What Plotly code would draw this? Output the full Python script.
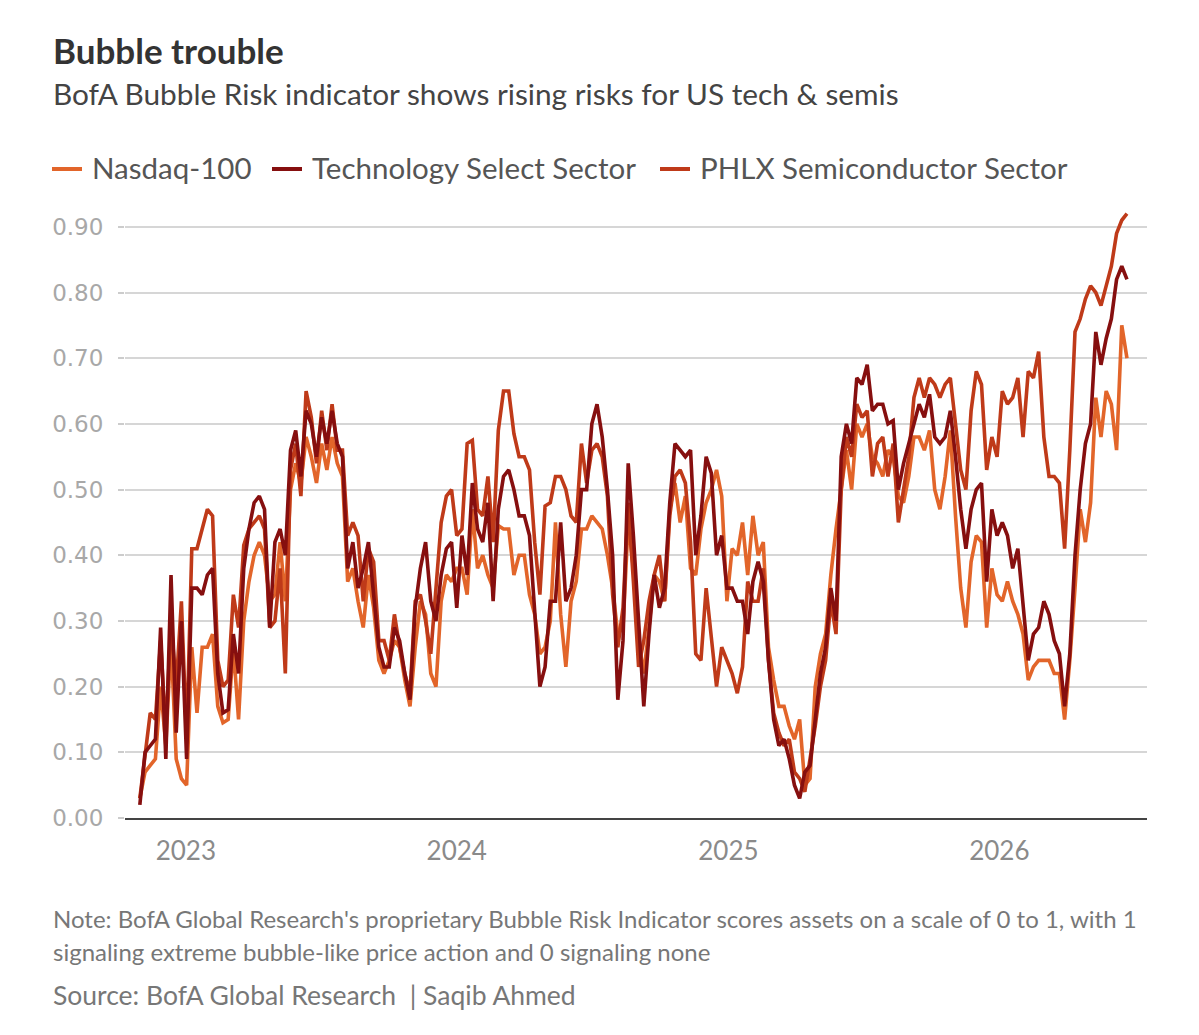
import pandas as pd
import plotly.graph_objects as go

# Weekly observation dates
dates = pd.date_range("2022-10-31", periods=191, freq="7D")

nasdaq_100 = [
    .03, .07, .08, .09, .20, .11, .27, .09, .06, .05,
    .26, .16, .26, .26, .28, .17, .145, .15, .26, .15,
    .30, .36, .40, .42, .40, .33, .34, .42, .33, .50,
    .54, .51, .58, .55, .51, .57, .53, .58, .54, .52,
    .36, .38, .33, .29, .37, .32, .24, .22, .24, .27,
    .26, .21, .17, .26, .33, .31, .22, .20, .33, .37,
    .36, .38, .38, .34, .47, .38, .40, .37, .35, .445,
    .44, .44, .37, .40, .40, .34, .31, .25, .26, .30,
    .45, .31, .23, .33, .36, .44, .44, .46, .45, .44,
    .40, .35, .28, .29, .45, .38, .27, .22, .29, .37,
    .36, .33, .47, .51, .45, .49, .38, .37, .44, .48,
    .50, .53, .49, .33, .41, .40, .45, .37, .46, .40,
    .42, .26, .21, .17, .17, .14, .12, .15, .05, .06,
    .20, .25, .28, .37, .44, .50, .56, .50, .60, .58,
    .60, .55, .54, .52, .56, .55, .49, .48, .52, .58,
    .58, .56, .59, .50, .47, .52, .59, .46, .35, .29,
    .39, .43, .42, .29, .38, .34, .33, .36, .33, .31,
    .28, .21, .23, .24, .24, .24, .22, .22, .15, .24,
    .35, .47, .42, .48, .64, .58, .65, .63, .56, .75,
    .70,
]

tech_select = [
    .02, .10, .11, .12, .29, .09, .37, .13, .30, .09,
    .35, .35, .34, .37, .38, .22, .16, .165, .28, .22,
    .38, .44, .48, .49, .47, .29, .42, .44, .40, .56,
    .59, .52, .62, .60, .55, .61, .57, .62, .57, .55,
    .38, .42, .35, .38, .42, .34, .26, .23, .23, .29,
    .27, .22, .18, .32, .38, .42, .33, .30, .37, .41,
    .42, .32, .43, .37, .51, .44, .42, .48, .33, .47,
    .52, .53, .50, .46, .46, .43, .32, .20, .23, .33,
    .33, .45, .33, .35, .40, .50, .50, .60, .63, .58,
    .50, .40, .18, .27, .54, .43, .30, .17, .28, .37,
    .32, .35, .48, .57, .56, .55, .56, .40, .46, .55,
    .525, .40, .43, .35, .35, .33, .33, .28, .36, .39,
    .36, .24, .15, .11, .12, .09, .05, .03, .07, .08,
    .15, .22, .26, .35, .30, .55, .60, .57, .67, .66,
    .69, .62, .63, .63, .60, .605, .50, .54, .57, .60,
    .63, .61, .645, .58, .57, .58, .62, .55, .47, .41,
    .47, .50, .51, .36, .47, .43, .45, .43, .38, .41,
    .32, .24, .28, .29, .33, .31, .27, .25, .17, .25,
    .40, .50, .57, .60, .74, .69, .73, .76, .82, .84,
    .82,
]

phlx_semis = [
    .03, .09, .16, .15, .27, .13, .30, .20, .33, .12,
    .41, .41, .44, .47, .46, .24, .20, .21, .34, .29,
    .415, .44, .45, .46, .44, .29, .30, .38, .22, .53,
    .57, .49, .65, .61, .54, .62, .56, .63, .56, .56,
    .43, .45, .43, .33, .41, .39, .27, .27, .24, .31,
    .26, .22, .19, .33, .34, .30, .25, .35, .45, .49,
    .50, .43, .44, .57, .575, .47, .46, .52, .42, .59,
    .65, .65, .585, .55, .55, .53, .42, .34, .475, .48,
    .52, .52, .50, .46, .45, .57, .51, .56, .57, .55,
    .49, .34, .26, .32, .48, .36, .23, .27, .33, .37,
    .40, .33, .46, .52, .53, .51, .42, .25, .24, .35,
    .28, .20, .26, .24, .22, .19, .23, .36, .33, .33,
    .38, .24, .16, .13, .11, .12, .07, .06, .04, .09,
    .14, .20, .24, .33, .28, .50, .58, .55, .63, .61,
    .62, .52, .57, .58, .52, .57, .45, .50, .55, .64,
    .67, .64, .67, .66, .64, .66, .67, .60, .53, .50,
    .62, .68, .66, .53, .58, .55, .65, .63, .64, .67,
    .58, .68, .67, .71, .58, .52, .52, .51, .41, .56,
    .74, .76, .79, .81, .80, .78, .81, .84, .89, .91,
    .92,
]

series_names = ["Nasdaq-100", "Technology Select Sector", "PHLX Semiconductor Sector"]

y_ticks = [0.0, 0.1, 0.2, 0.3, 0.4, 0.5, 0.6, 0.7, 0.8, 0.9]
y_tick_labels = ["0.00", "0.10", "0.20", "0.30", "0.40", "0.50", "0.60", "0.70", "0.80", "0.90"]
x_ticks = ["2023-01-01", "2024-01-01", "2025-01-01", "2026-01-01"]
x_tick_labels = ["2023", "2024", "2025", "2026"]

C_NDX = "#e2652a"
C_TECH = "#860f0f"
C_SEMI = "#bf3a19"
colors = [C_NDX, C_TECH, C_SEMI]

FONT = "Lato"
LW = 3.6

fig = go.Figure()
# draw order: Nasdaq, Semis, Tech on top
fig.add_trace(go.Scatter(x=dates, y=nasdaq_100, mode="lines", name=series_names[0],
                         line=dict(color=C_NDX, width=LW)))
fig.add_trace(go.Scatter(x=dates, y=phlx_semis, mode="lines", name=series_names[2],
                         line=dict(color=C_SEMI, width=LW)))
fig.add_trace(go.Scatter(x=dates, y=tech_select, mode="lines", name=series_names[1],
                         line=dict(color=C_TECH, width=LW)))

L, R, T, B = 125, 52, 194, 217
W, H = 1199, 1035
PW, PH = W - L - R, H - T - B


def px(xp):
    return (xp - L) / PW


def py(yp):
    return (H - B - yp) / PH


annotations = [
    dict(text="<b>Bubble trouble</b>", x=px(51), y=py(50), font=dict(size=35, color="#333333")),
    dict(text="BofA Bubble Risk indicator shows rising risks for US tech & semis", x=px(51), y=py(94),
         font=dict(size=29.8, color="#444444")),
    dict(text="Note: BofA Global Research's proprietary Bubble Risk Indicator scores assets on a scale of 0 to 1, with 1",
         x=px(51), y=py(918), font=dict(size=24, color="#777777")),
    dict(text="signaling extreme bubble-like price action and 0 signaling none",
         x=px(51), y=py(951), font=dict(size=24, color="#777777")),
    dict(text="Source: BofA Global Research  | Saqib Ahmed",
         x=px(51), y=py(995), font=dict(size=26.5, color="#777777")),
]

# manual legend
legend_sym_x = [(52, 82), (272, 302), (660, 690)]
legend_txt_x = [90, 310, 698]
shapes = []
for (x0, x1), tx, name, col in zip(legend_sym_x, legend_txt_x, series_names, colors):
    shapes.append(dict(type="line", xref="paper", yref="paper", x0=px(x0), x1=px(x1),
                       y0=py(169), y1=py(169), line=dict(color=col, width=4)))
    annotations.append(dict(text=name, x=px(tx), y=py(168), font=dict(size=29.5, color="#555555")))

for a in annotations:
    a.update(xref="paper", yref="paper", xanchor="left", yanchor="middle", showarrow=False)
    a["font"]["family"] = FONT

fig.update_layout(
    width=W, height=H,
    margin=dict(l=L, r=R, t=T, b=B),
    paper_bgcolor="white", plot_bgcolor="white",
    font=dict(family=FONT),
    showlegend=False,
    annotations=annotations,
    shapes=shapes,
    xaxis=dict(
        range=["2022-10-11", "2026-07-19"],
        tickvals=x_ticks, ticktext=x_tick_labels,
        showgrid=False, zeroline=False,
        showline=True, linecolor="#444444", linewidth=2,
        ticks="", tickfont=dict(size=26, color="#8a8a8a", family=FONT),
        ticklabelstandoff=9,
    ),
    yaxis=dict(
        range=[0, 0.95],
        tickvals=y_ticks, ticktext=y_tick_labels,
        showgrid=True, gridcolor="#d6d6d6", gridwidth=1.5,
        zeroline=False, showline=False,
        ticks="outside", ticklen=6, tickcolor="#cccccc", tickwidth=1.5,
        tickfont=dict(size=23, color="#a8a8a8", family="DejaVu Sans"),
        ticklabelstandoff=10,
    ),
)

fig.write_html("out.html")
